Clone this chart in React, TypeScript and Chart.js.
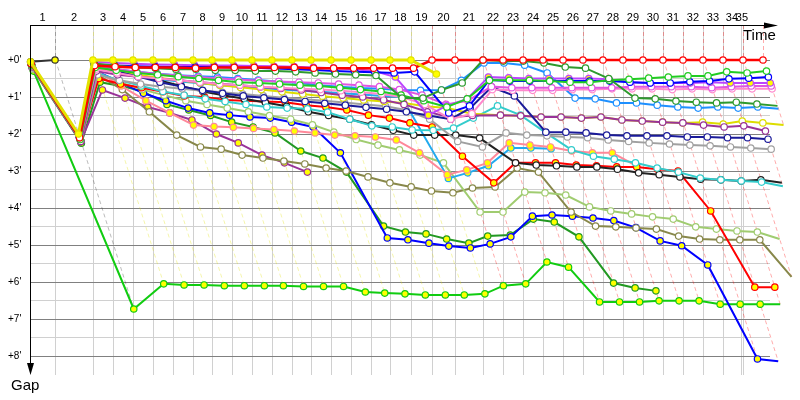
import React, { useEffect, useRef } from 'react';
import { Chart, registerables } from 'chart.js';

Chart.register(...registerables);

const N = null;

// leader crossing time (minutes) at end of each lap 0..35
const lapTimes = [0, 2.14, 5.38, 7.09, 8.8, 10.51, 12.22, 13.93, 15.56, 17.26, 18.97, 20.68, 22.39, 24.02, 25.73, 27.44, 29.15, 30.77, 32.56, 34.36, 36.32, 38.72, 40.43, 42.14, 43.85, 45.56, 47.26, 48.97, 50.68, 52.39, 54.1, 55.81, 57.52, 59.23, 60.94, 62.65];
// time grid boundaries used for the lap labels
const gridTimes = [0, 2.14, 5.38, 7.09, 8.8, 10.51, 12.22, 13.93, 15.56, 17.26, 18.97, 20.68, 22.39, 24.02, 25.73, 27.44, 29.15, 30.77, 32.56, 34.36, 36.32, 38.72, 40.43, 42.14, 43.85, 45.56, 47.26, 48.97, 50.68, 52.39, 54.1, 55.81, 57.52, 59.23, 60.77, 60.94];
const lapLabels = ['1', '2', '3', '4', '5', '6', '7', '8', '9', '10', '11', '12', '13', '14', '15', '16', '17', '18', '19', '20', '21', '22', '23', '24', '25', '26', '27', '28', '29', '30', '31', '32', '33', '34', '35'];
const gapTicks = [0, 1, 2, 3, 4, 5, 6, 7, 8];
const gapTickLabels = ["+0'", "+1'", "+2'", "+3'", "+4'", "+5'", "+6'", "+7'", "+8'"];

// gaps (minutes) per lap 0..35
const yellowLead = [0.05, 2.0, 0, 0, 0, 0, 0, 0, 0, 0, 0, 0, 0, 0, 0, 0, 0, 0, 0, 0.38, N, N, N, N, N, N, N, N, N, N, N, N, N, N, N, N];
const redLead = [0.1, 2.1, 0.15, 0.18, 0.2, 0.2, 0.2, 0.22, 0.2, 0.2, 0.2, 0.2, 0.2, 0.22, 0.22, 0.22, 0.22, 0.22, 0.22, 0, 0, 0, 0, 0, 0, 0, 0, 0, 0, 0, 0, 0, 0, 0, 0, 0];
const darkGreen = [0.12, 2.1, 0.1, 0.15, 0.2, 0.22, 0.25, 0.25, 0.28, 0.28, 0.3, 0.3, 0.32, 0.35, 0.38, 0.4, 0.42, 1.03, 1.03, 0.81, 0.62, 0, 0.03, 0.03, 0.08, 0.19, 0.22, 0.5, 1.03, 1.05, 1.11, 1.14, 1.16, 1.14, 1.19, 1.24];
const green2 = [0.15, 2.15, 0.2, 0.28, 0.35, 0.4, 0.45, 0.5, 0.55, 0.6, 0.62, 0.65, 0.68, 0.7, 0.75, 0.8, 0.85, 0.95, 1.1, 1.27, 1.05, 0.55, 0.55, 0.55, 0.57, 0.6, 0.6, 0.55, 0.52, 0.49, 0.46, 0.43, 0.43, 0.32, 0.35, 0.3];
const blueTop = [0.08, 2.05, 0.12, 0.15, 0.17, 0.18, 0.19, 0.19, 0.19, 0.2, 0.21, 0.23, 0.25, 0.27, 0.3, 0.32, 0.33, 0.35, 0.32, 1.43, 1.24, 0.54, 0.57, 0.57, 0.57, 0.57, 0.57, 0.57, 0.6, 0.62, 0.62, 0.59, 0.57, 0.51, 0.49, 0.46];
const navy = [0.1, 2.1, 0.15, 0.3, 0.45, 0.6, 0.72, 0.82, 0.9, 0.97, 1.02, 1.07, 1.12, 1.17, 1.22, 1.28, 1.33, 1.4, 1.5, 1.6, 1.3, 0.73, 0.97, 1.95, 1.95, 1.97, 2.03, 2.05, 2.05, 2.05, 2.08, 2.08, 2.1, 2.1, 2.14, N];
const violet = [0.1, 2.05, 0.05, 0.08, 0.1, 0.12, 0.13, 0.14, 0.15, 0.15, 0.16, 0.17, 0.18, 0.2, 0.22, 0.25, 0.3, 0.46, 1.49, 1.24, 1.05, 0.46, 0.48, 0.5, 0.5, 0.5, 0.5, 0.52, 0.6, 0.62, 0.62, 0.62, 0.6, 0.62, 0.62, 0.62];
const magenta = [0.12, 2.1, 0.18, 0.25, 0.32, 0.38, 0.42, 0.46, 0.5, 0.53, 0.56, 0.58, 0.6, 0.62, 0.65, 0.68, 0.72, 0.8, 0.95, 1.2, 1.1, 0.72, 0.75, 0.75, 0.75, 0.75, 0.75, 0.75, 0.72, 0.72, 0.72, 0.72, 0.75, 0.72, 0.7, 0.7];
const pink = [0.15, 2.15, 0.25, 0.35, 0.45, 0.5, 0.55, 0.6, 0.65, 0.68, 0.72, 0.75, 0.78, 0.8, 0.83, 0.87, 0.92, 1.0, 1.2, 1.6, 1.45, 0.8, 0.82, 0.82, 0.82, 0.8, 0.8, 0.78, 0.78, 0.78, 0.8, 0.78, 0.8, 0.78, 0.78, 0.78];
const skyBlue = [0.1, 2.1, 0.15, 0.25, 0.32, 0.37, 0.41, 0.44, 0.46, 0.5, 0.54, 0.59, 0.62, 0.68, 0.72, 0.76, 0.78, 0.81, 0.82, 0.81, 0.55, 0.08, 0.08, 0.14, 0.35, 1.03, 1.05, 1.16, 1.16, 1.22, 1.27, 1.3, 1.27, 1.3, 1.27, 1.32];
const skyBlue2 = [0.12, 2.1, 0.2, 0.35, 0.45, 0.52, 0.58, 0.63, 0.68, 0.72, 0.76, 0.8, 0.83, 0.86, 0.9, 0.93, 0.97, 1.0, 3.2, 3.05, 2.86, 2.38, 2.38, 2.4, N, N, N, N, N, N, N, N, N, N, N, N];
const cyan = [0.15, 2.15, 0.35, 0.55, 0.7, 0.85, 0.95, 1.05, 1.12, 1.2, 1.27, 1.3, 1.32, 1.41, 1.6, 1.78, 1.81, 1.89, 1.9, 1.84, 1.57, 1.24, 1.49, 1.97, 2.43, 2.6, 2.68, 2.78, 2.92, 3.03, 3.19, 3.24, 3.27, 3.3, 3.41, N];
const gray = [0.2, 2.2, 0.4, 0.55, 0.65, 0.72, 0.78, 0.83, 0.87, 0.92, 0.97, 1.02, 1.06, 1.1, 1.15, 1.2, 1.25, 1.35, 1.6, 2.2, 2.35, 1.97, 2.03, 2.05, 2.08, 2.1, 2.16, 2.2, 2.24, 2.27, 2.3, 2.32, 2.35, 2.38, 2.41, N];
const black = [0.2, 2.2, 0.1, 0.25, 0.4, 0.55, 0.7, 0.85, 0.95, 1.05, 1.15, 1.25, 1.4, 1.5, 1.6, 1.75, 1.9, 2.03, 2.03, 2.03, 2.11, 2.78, 2.84, 2.86, 2.89, 2.89, 2.95, 3.05, 3.1, 3.16, 3.22, 3.24, 3.27, 3.24, 3.32, N];
const blackShort = [0.05, 0, N, N, N, N, N, N, N, N, N, N, N, N, N, N, N, N, N, N, N, N, N, N, N, N, N, N, N, N, N, N, N, N, N, N];
const red2 = [0.15, 2.15, 0.5, 0.65, 0.75, 0.86, 0.97, 1.0, 1.08, 1.1, 1.12, 1.14, 1.22, 1.27, 1.35, 1.49, 1.57, 1.7, 1.81, 2.6, 3.32, 2.78, 2.78, 2.78, 2.84, 2.86, 2.89, 2.89, 2.95, 3.0, 4.08, 6.14, 6.14, N, N, N];
const pink2 = [0.18, 2.15, 0.3, 0.7, 1.1, 1.43, 1.76, 1.8, 1.82, 1.85, 1.88, 1.92, 1.97, 2.03, 2.05, 2.08, 2.16, 2.51, 3.1, 2.97, 2.78, 2.24, 2.3, 2.35, 2.46, 2.51, 2.51, 2.86, N, N, N, N, N, N, N, N];
const olive = [0.2, 2.2, 0.4, 0.8, 1.4, 2.03, 2.35, 2.41, 2.57, 2.65, 2.73, 2.81, 2.92, 3.0, 3.16, 3.32, 3.43, 3.54, 3.59, 3.46, 3.43, 2.92, 3.03, 4.11, 4.49, 4.51, 4.54, 4.57, 4.76, 4.84, 4.86, 4.86, 4.86, 5.86, N, N];
const purple = [0.2, 2.2, 0.81, 1.03, 1.27, 1.43, 1.62, 2.0, 2.24, 2.57, 2.78, 3.03, N, N, N, N, N, N, N, N, N, N, N, N, N, N, N, N, N, N, N, N, N, N, N, N];
const purple2 = [0.18, 2.2, 0.3, 0.4, 0.45, 0.5, 0.55, 0.6, 0.64, 0.68, 0.73, 0.77, 0.81, 0.88, 0.95, 1.0, 1.08, 1.2, 1.4, 1.55, 1.5, 1.49, 1.51, 1.54, 1.54, 1.57, 1.54, 1.62, 1.65, 1.68, 1.7, 1.76, 1.81, 1.78, 1.92, N];
const yellow2 = [0.1, 2.1, 0.2, 0.3, 0.4, 0.48, 0.55, 0.62, 0.68, 0.74, 0.8, 0.86, 0.92, 0.98, 1.03, 1.08, 1.12, 1.16, 1.25, 1.3, 1.45, 1.49, 1.51, 1.54, 1.54, 1.57, 1.54, 1.62, 1.65, 1.68, 1.7, 1.68, 1.73, 1.65, 1.7, 1.76];
const lightGreen = [0.25, 2.2, 0.35, 0.6, 0.8, 0.95, 1.1, 1.2, 1.3, 1.4, 1.5, 1.6, 1.75, 1.95, 2.15, 2.3, 2.43, 2.57, 2.78, 4.11, 4.11, 3.57, 3.59, 3.65, 3.97, 4.08, 4.16, 4.24, 4.3, 4.51, 4.57, 4.62, 4.65, 4.84, N, N];
const blueLow = [0.2, 2.2, 0.3, 0.6, 0.9, 1.1, 1.3, 1.43, 1.49, 1.54, 1.57, 1.68, 1.81, 2.51, 4.81, 4.86, 4.95, 5.03, 5.08, 4.97, 4.78, 4.22, 4.19, 4.22, 4.27, 4.34, 4.53, 4.89, 5.02, 5.54, 8.08, 8.14, N, N, N, N];
const greenMid = [0.25, 2.25, 0.6, 0.7, 0.85, 1.2, 1.35, 1.5, 1.68, 1.81, 1.97, 2.46, 2.65, 3.03, 4.49, 4.65, 4.7, 4.84, 4.95, 4.76, 4.73, 4.3, 4.38, 4.78, 6.03, 6.16, 6.24, N, N, N, N, N, N, N, N, N];
const brightGreen = [0.3, 6.73, 6.05, 6.08, 6.08, 6.1, 6.1, 6.1, 6.1, 6.12, 6.12, 6.12, 6.27, 6.3, 6.32, 6.35, 6.35, 6.35, 6.32, 6.1, 6.05, 5.46, 5.6, 6.54, 6.54, 6.54, 6.51, 6.51, 6.51, 6.6, 6.6, 6.6, 6.6, N, N, N];

const seriesList = [
  { gaps: yellowLead, color: '#e2e200', fill: '#ffff00', width: 3 },
  { gaps: redLead, color: '#ff0000', fill: '#ffffff', width: 2.5 },
  { gaps: darkGreen, color: '#2e9a2e', fill: '#ffffff', width: 2 },
  { gaps: green2, color: '#22cc22', fill: '#ffffff', width: 2 },
  { gaps: blueTop, color: '#0000ff', fill: '#ffffff', width: 2 },
  { gaps: violet, color: '#bb44ff', fill: '#ffff00', width: 2 },
  { gaps: magenta, color: '#e055e0', fill: '#ffffff', width: 2 },
  { gaps: pink, color: '#ff88cc', fill: '#ffffff', width: 2 },
  { gaps: skyBlue, color: '#1e90ff', fill: '#ffffff', width: 2 },
  { gaps: navy, color: '#1a1a99', fill: '#ffffff', width: 2 },
  { gaps: purple2, color: '#993399', fill: '#ffffff', width: 2 },
  { gaps: yellow2, color: '#dddd00', fill: '#ffffff', width: 2 },
  { gaps: gray, color: '#a0a0a0', fill: '#ffffff', width: 2 },
  { gaps: cyan, color: '#33cccc', fill: '#ffffff', width: 2 },
  { gaps: black, color: '#222222', fill: '#ffffff', width: 2 },
  { gaps: red2, color: '#ff0000', fill: '#ffff00', width: 2 },
  { gaps: pink2, color: '#ff8899', fill: '#ffff00', width: 2 },
  { gaps: skyBlue2, color: '#22aaee', fill: '#ffff00', width: 2 },
  { gaps: lightGreen, color: '#a0cc70', fill: '#ffffff', width: 2 },
  { gaps: olive, color: '#88884a', fill: '#ffffff', width: 2 },
  { gaps: purple, color: '#993399', fill: '#ffff00', width: 2 },
  { gaps: blueLow, color: '#0000ff', fill: '#ffff00', width: 2 },
  { gaps: greenMid, color: '#229922', fill: '#ffff00', width: 2 },
  { gaps: brightGreen, color: '#11cc11', fill: '#ffff00', width: 2 },
  { gaps: blackShort, color: '#333333', fill: '#ffff00', width: 2 },
];

function hexToRgba(hex: string, a: number) {
  const h = hex.replace('#', '');
  const r = parseInt(h.slice(0, 2), 16);
  const g = parseInt(h.slice(2, 4), 16);
  const b = parseInt(h.slice(4, 6), 16);
  return `rgba(${r},${g},${b},${a})`;
}

const gapChartPlugin = {
  id: 'gapChart',
  beforeDatasetsDraw(chart: any) {
    const { ctx, chartArea: a, scales } = chart;
    const xs = scales.x;
    const ys = scales.y;
    const px = (v: number) => xs.getPixelForValue(v);
    const py = (v: number) => ys.getPixelForValue(v);
    ctx.save();
    ctx.lineWidth = 1;
    ctx.strokeStyle = '#d0d0d0';
    for (let i = 0; i < gapTicks.length - 1; i++) {
      const yy = Math.round(py(gapTicks[i] + 0.5)) + 0.5;
      ctx.beginPath();
      ctx.moveTo(a.left, yy);
      ctx.lineTo(a.right, yy);
      ctx.stroke();
    }
    for (let i = 1; i < gridTimes.length; i++) {
      const xx = Math.round(px(gridTimes[i])) + 0.5;
      ctx.beginPath();
      ctx.moveTo(xx, a.top);
      ctx.lineTo(xx, a.bottom);
      ctx.stroke();
    }
    ctx.strokeStyle = '#808080';
    for (const t of gapTicks) {
      const yy = Math.round(py(t)) + 0.5;
      ctx.beginPath();
      ctx.moveTo(a.left, yy);
      ctx.lineTo(a.right, yy);
      ctx.stroke();
    }
    ctx.setLineDash([4, 3]);
    for (let n = 1; n < lapTimes.length; n++) {
      let maxGap = 0;
      let leader = seriesList[0];
      let minGap = Infinity;
      for (const s of seriesList) {
        const g = s.gaps[n];
        if (g === null || g === undefined) continue;
        if (g > maxGap) maxGap = g;
        if (g < minGap) { minGap = g; leader = s; }
      }
      ctx.strokeStyle = hexToRgba(leader.color, 0.33);
      const x0 = Math.round(px(lapTimes[n])) + 0.5;
      ctx.beginPath();
      ctx.moveTo(x0, a.top);
      ctx.lineTo(x0, py(0));
      ctx.lineTo(px(lapTimes[n] + maxGap), py(maxGap));
      ctx.stroke();
    }
    ctx.restore();
  },
  afterDatasetsDraw(chart: any) {
    const { ctx, chartArea: a, scales } = chart;
    const xs = scales.x;
    const ys = scales.y;
    ctx.save();
    ctx.strokeStyle = '#000';
    ctx.fillStyle = '#000';
    ctx.lineWidth = 1;
    ctx.beginPath();
    ctx.moveTo(a.left, a.top + 0.5);
    ctx.lineTo(a.right, a.top + 0.5);
    ctx.stroke();
    ctx.beginPath();
    ctx.moveTo(a.right - 6, a.top - 2.5);
    ctx.lineTo(a.right + 8, a.top + 0.5);
    ctx.lineTo(a.right - 6, a.top + 3.5);
    ctx.closePath();
    ctx.fill();
    ctx.beginPath();
    ctx.moveTo(a.left + 0.5, a.top);
    ctx.lineTo(a.left + 0.5, a.bottom - 8);
    ctx.stroke();
    ctx.beginPath();
    ctx.moveTo(a.left - 3, a.bottom - 12);
    ctx.lineTo(a.left + 0.5, a.bottom);
    ctx.lineTo(a.left + 4, a.bottom - 12);
    ctx.closePath();
    ctx.fill();
    ctx.font = '11px "Liberation Sans", Arial, sans-serif';
    ctx.textAlign = 'center';
    ctx.textBaseline = 'middle';
    for (let i = 0; i < lapLabels.length; i++) {
      const mid = (xs.getPixelForValue(gridTimes[i]) + xs.getPixelForValue(gridTimes[i + 1])) / 2;
      ctx.fillText(lapLabels[i], mid, a.top - 7);
    }
    ctx.font = '10px "Liberation Sans", Arial, sans-serif';
    ctx.textAlign = 'left';
    for (let i = 0; i < gapTicks.length; i++) {
      ctx.fillText(gapTickLabels[i], 8, ys.getPixelForValue(gapTicks[i]));
    }
    ctx.font = '15px "Liberation Sans", Arial, sans-serif';
    ctx.textBaseline = 'alphabetic';
    ctx.fillText('Time', 743, 40);
    ctx.fillText('Gap', 11, 390);
    ctx.restore();
  },
};

export default function App() {
  const canvasRef = useRef<HTMLCanvasElement | null>(null);
  useEffect(() => {
    const canvas = canvasRef.current;
    if (!canvas) return;
    const datasets = seriesList.map((s, i) => ({
      label: 'S' + i,
      data: s.gaps
        .map((g, n) => (g === null ? null : { x: lapTimes[n] + g, y: g }))
        .filter((p) => p !== null),
      borderColor: s.color,
      backgroundColor: s.fill,
      borderWidth: s.width,
      pointRadius: 3.2,
      pointBorderWidth: 1.2,
      pointBackgroundColor: s.fill,
      pointBorderColor: s.color,
      tension: 0,
      clip: false,
    }));
    const chart = new Chart(canvas, {
      type: 'line',
      data: { datasets },
      options: {
        responsive: false,
        animation: false,
        layout: { padding: { left: 30, top: 25, right: 30, bottom: 25 } },
        scales: {
          x: { type: 'linear', display: false, min: 0, max: 63.25 },
          y: { type: 'linear', display: false, reverse: true, min: -0.946, max: 8.514 },
        },
        plugins: { legend: { display: false }, tooltip: { enabled: false } },
      },
      plugins: [gapChartPlugin],
    });
    return () => chart.destroy();
  }, []);
  return (
    <div style={{ position: 'absolute', left: 0, top: 0, width: 800, height: 400, background: '#fff' }}>
      <canvas ref={canvasRef} width={800} height={400} style={{ display: 'block' }} />
    </div>
  );
}
